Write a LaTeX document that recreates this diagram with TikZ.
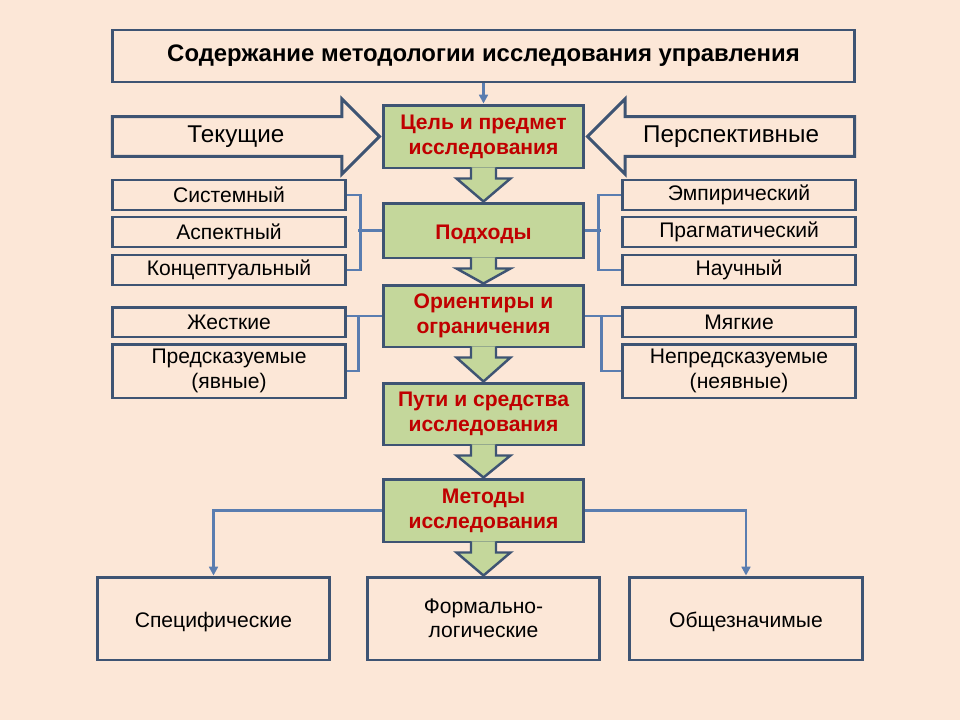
\documentclass[tikz,border=0pt]{standalone}
\usepackage{fontspec}
\setmainfont{Liberation Sans}
\usetikzlibrary{calc,shapes.arrows,arrows.meta}

\definecolor{peach}{RGB}{252,231,215}
\definecolor{frame}{RGB}{62,84,115}
\definecolor{leaf}{RGB}{196,215,155}
\definecolor{redtext}{RGB}{192,0,0}
\definecolor{wire}{RGB}{90,125,176}

% fat green arrow from one stage down to the next
\newcommand\blockdown[2]{%
  \draw[blockarrow] ($(#1.south)+(-12.5,-2)$) -- ($(#1.south)+(-12.5,9)$)
    -- ($(#1.south)+(-27,9)$) -- (#2.north) -- ($(#1.south)+(27,9)$)
    -- ($(#1.south)+(12.5,9)$) -- ($(#1.south)+(12.5,-2)$);}

\begin{document}
\begin{tikzpicture}[
    x=0.02cm, y=-0.02cm,
    box/.style={
      draw=frame,
      line width=1.7pt,
      fill=peach,
      inner sep=0pt,
      align=center,
      font=\fontsize{12}{14.5}\selectfont
    },
    item/.style={box, minimum width=4.68cm, minimum height=0.6cm},
    wideitem/.style={box, minimum width=4.68cm, minimum height=1.08cm},
    stage/.style={
      draw=frame,
      line width=1.7pt,
      fill=leaf,
      text=redtext,
      inner sep=0pt,
      align=center,
      minimum width=4.02cm,
      execute at begin node=\rule{0pt}{12.5pt},
      font=\bfseries\fontsize{12}{14.3}\selectfont
    },
    result/.style={box, minimum width=4.66cm, minimum height=1.66cm,
      execute at begin node=\rule{0pt}{12.5pt},
      font=\fontsize{12}{13.8}\selectfont},
    side/.style={
      single arrow,
      draw=frame,
      line width=1.7pt,
      fill=peach,
      single arrow head extend=0.35cm,
      single arrow head indent=0pt,
      minimum height=5.34cm,
      text height=0.32cm, text depth=0.08cm,
      inner ysep=0.17cm,
      font=\fontsize{13.8}{15}\selectfont
    },
    blockarrow/.style={draw=frame, fill=leaf, line width=1.4pt, line join=miter},
    wire/.style={draw=wire, line width=1.4pt}
  ]

  \fill[peach] (0,0) rectangle (960,720);
  \useasboundingbox (0,0) rectangle (960,720);

  \node (title) at (483.5,56) [box, minimum width=14.86cm, minimum height=1.04cm,
    font=\bfseries\fontsize{13.6}{15}\selectfont]
    {Содержание методологии исследования управления};

  \node (cel) at (483.5,136.5) [stage, minimum height=1.26cm] {Цель и предмет\\исследования};
  \node (podhody) at (483.5,230.5) [stage, minimum height=1.1cm] {Подходы};
  \node (orient) at (483.5,316) [stage, minimum height=1.24cm] {Ориентиры и\\ограничения};
  \node (puti) at (483.5,414) [stage, minimum height=1.24cm] {Пути и средства\\исследования};
  \node (metody) at (483.5,510.5) [stage, minimum height=1.26cm] {Методы\\исследования};

  \node (tek) at (cel.west) [side, anchor=tip] {Текущие};
  \node (persp) at (cel.east) [side, anchor=tip, shape border rotate=180] {Перспективные};

  \node (sist) at (229,195) [item] {Системный};
  \node (asp) at (229,232) [item] {Аспектный};
  \node (konc) at (229,270) [item] {Концептуальный};
  \node (zhest) at (229,322) [item] {Жесткие};
  \node (predsk) at (229,371) [wideitem] {Предсказуемые\\(явные)};

  \node (empir) at (739,195) [item] {Эмпирический};
  \node (pragm) at (739,232) [item] {Прагматический};
  \node (nauch) at (739,270) [item] {Научный};
  \node (myag) at (739,322) [item] {Мягкие};
  \node (nepred) at (739,371) [wideitem] {Непредсказуемые\\(неявные)};

  \node (spec) at (213.5,618.5) [result] {Специфические};
  \node (form) at (483.5,618.5) [result] {Формально-\\логические};
  \node (obsh) at (746,618.5) [result] {Общезначимые};

  \draw[wire, -{Triangle[length=5pt,width=5pt]}] (title.south) -- (cel.north);

  \draw[wire] (sist.east) -- ++(13,0) |- (konc.east);
  \draw[wire] (podhody.west) -- ++(-24,0);
  \draw[wire] (empir.west) -- ++(-22,0) |- (nauch.west);
  \draw[wire] (podhody.east) -- ++(16,0);

  \draw[wire] (orient.west) -- (orient.west -| zhest.east)
    (orient.west) ++(-23,0) |- (predsk.east);
  \draw[wire] (orient.east) -- (orient.east -| myag.west)
    (orient.east) ++(16,0) |- (nepred.west);

  \draw[wire, -{Triangle[length=5pt,width=5pt]}] (metody.west) -| (spec.north);
  \draw[wire, -{Triangle[length=5pt,width=5pt]}] (metody.east) -| (obsh.north);

  \blockdown{cel}{podhody}
  \blockdown{podhody}{orient}
  \blockdown{orient}{puti}
  \blockdown{puti}{metody}
  \blockdown{metody}{form}

\end{tikzpicture}
\end{document}
